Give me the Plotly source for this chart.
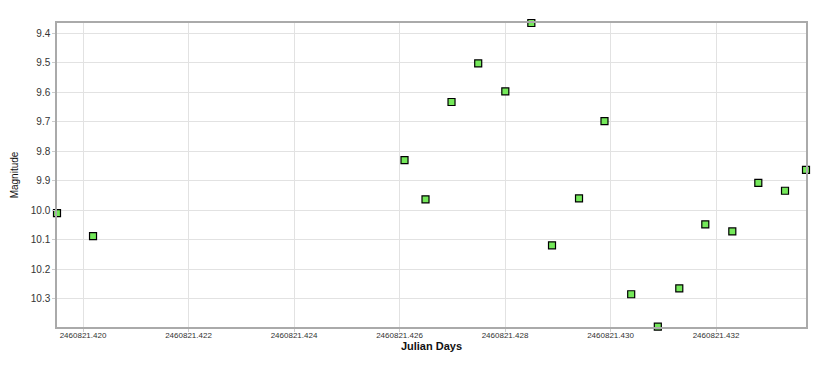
import plotly.graph_objects as go

jd_offset = 2460821.0
jd_frac = [0.419507, 0.42019, 0.426095, 0.426493, 0.426986, 0.427492, 0.428006,
           0.428499, 0.428891, 0.429403, 0.429886, 0.430392, 0.430897, 0.431304,
           0.431797, 0.432309, 0.432802, 0.433308, 0.433706]
magnitude = [10.01, 10.088, 9.83, 9.963, 9.633, 9.502, 9.597,
             9.365, 10.119, 9.96, 9.698, 10.285, 10.395, 10.265,
             10.048, 10.072, 9.907, 9.934, 9.863]
x_ticks = [0.420, 0.422, 0.424, 0.426, 0.428, 0.430, 0.432]
y_ticks = [9.4, 9.5, 9.6, 9.7, 9.8, 9.9, 10.0, 10.1, 10.2, 10.3]

xs = [jd_offset + f for f in jd_frac]
tickvals = [jd_offset + t for t in x_ticks]
ticktext = ["%.3f" % (jd_offset + t) for t in x_ticks]

fig = go.Figure(go.Scatter(
    x=xs, y=magnitude, mode="markers",
    marker=dict(symbol="square", size=7, color="#74e85a",
                line=dict(color="black", width=1.2)),
    cliponaxis=False,
))

fig.update_layout(
    width=828, height=387,
    margin=dict(l=57, r=22, t=23, b=60),
    paper_bgcolor="white", plot_bgcolor="white",
    font=dict(family="Liberation Sans, Arial, sans-serif", color="#333"),
    showlegend=False,
)
fig.update_xaxes(
    range=[jd_offset + 0.419507, jd_offset + 0.433706],
    tickvals=tickvals, ticktext=ticktext, tickfont=dict(size=8, color="#333"),
    showgrid=True, gridcolor="#e2e2e2", gridwidth=1,
    showline=True, linecolor="#aaaaaa", linewidth=1.5, mirror=True,
    ticks="outside", ticklen=3, tickcolor="#cccccc", ticklabelstandoff=-3,
    zeroline=False, automargin=False,
    title=dict(text="<b>Julian Days</b>", font=dict(size=11, color="#111"), standoff=0),
)
fig.update_yaxes(
    range=[10.396, 9.365],
    tickvals=y_ticks, ticktext=["%.1f" % v for v in y_ticks],
    tickfont=dict(size=10, color="#333"),
    showgrid=True, gridcolor="#e2e2e2", gridwidth=1,
    showline=True, linecolor="#aaaaaa", linewidth=1.5, mirror=True,
    ticks="outside", ticklen=3, tickcolor="#cccccc",
    zeroline=False, automargin=False,
    title=dict(text="Magnitude", font=dict(size=10, color="#111"), standoff=10),
)

fig.write_html("out.html", config={"displayModeBar": False},
               post_script="document.body.style.margin='0';")
